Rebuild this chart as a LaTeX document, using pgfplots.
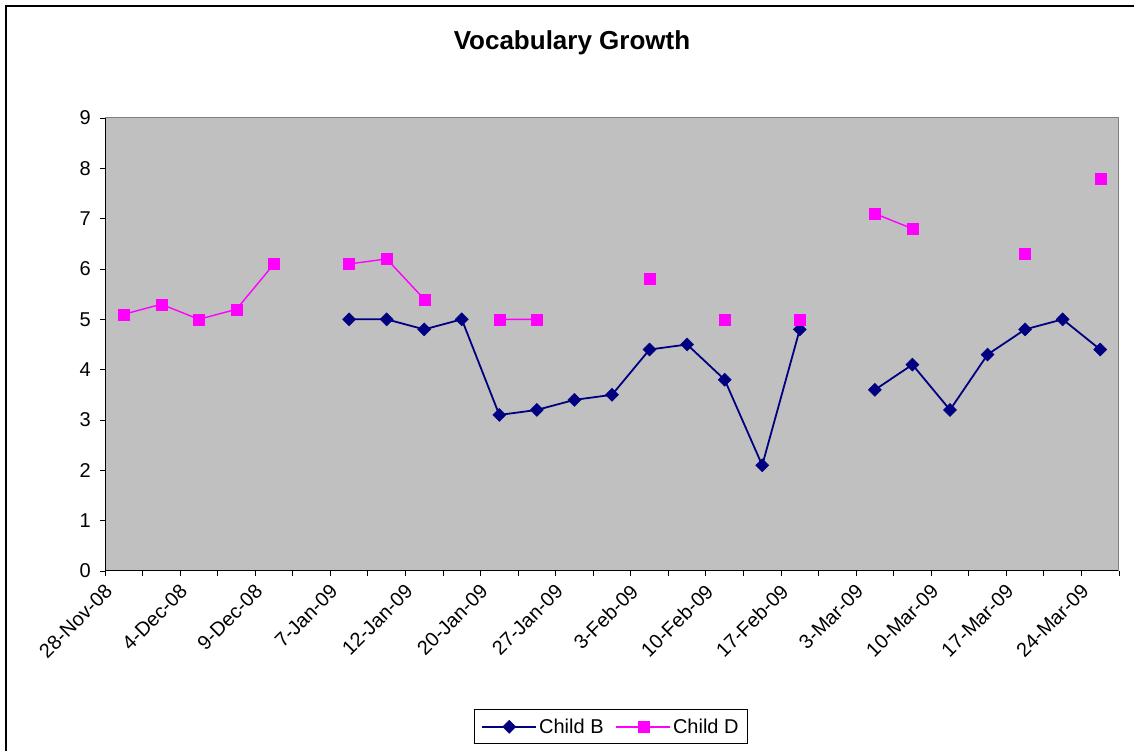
\documentclass[border=0pt]{standalone}
\usepackage{pgfplots}
\pgfplotsset{compat=1.18}
\usepackage{pgfplotstable}
\usepackage{fontspec}
\setmainfont{Liberation Sans}
\definecolor{plotgray}{HTML}{C0C0C0}
\definecolor{bordergray}{HTML}{808080}
\definecolor{navyB}{HTML}{000080}
\definecolor{magD}{HTML}{FF00FF}
\pgfplotstableread{
x B D
0 nan 5.1
1 nan 5.3
2 nan 5.0
3 nan 5.2
4 nan 6.1
5 nan nan
6 5.0 6.1
7 5.0 6.2
8 4.8 5.4
9 5.0 nan
10 3.1 5.0
11 3.2 5.0
12 3.4 nan
13 3.5 nan
14 4.4 5.8
15 4.5 nan
16 3.8 5.0
17 2.1 nan
18 4.8 5.0
19 nan nan
20 3.6 7.1
21 4.1 6.8
22 3.2 nan
23 4.3 nan
24 4.8 6.3
25 5.0 nan
26 4.4 7.8
}\datatable
\begin{document}
\begin{tikzpicture}[x=1pt,y=1pt]
\path[use as bounding box] (0,0) rectangle (1134,751);
\draw[line width=2pt] (6,-5) -- (6,745) -- (1140,745);
\node[font=\bfseries\fontsize{26}{30}\selectfont] at (572,708) {Vocabulary Growth};
\begin{axis}[
  at={(105pt,180pt)}, anchor=south west,
  scale only axis, width=1014pt, height=453pt,
  xmin=-0.5, xmax=26.5, ymin=0, ymax=9,
  ytick={0,1,...,9},
  xtick={0,2,...,26},
  xticklabels={28-Nov-08,4-Dec-08,9-Dec-08,7-Jan-09,12-Jan-09,20-Jan-09,27-Jan-09,3-Feb-09,10-Feb-09,17-Feb-09,3-Mar-09,10-Mar-09,17-Mar-09,24-Mar-09},
  minor xtick={-0.5,0.5,...,26.5},
  major x tick style={draw=none},
  tick align=outside,
  major tick length=5pt, minor tick length=5pt,
  every tick/.style={black, line width=0.9pt},
  axis background/.style={fill=plotgray},
  axis x line*=bottom, axis y line*=left,
  axis line style={black, line width=1pt},
  unbounded coords=jump,
  /pgf/number format/assume math mode=true,
  tick label style={font=\fontsize{20}{23}\selectfont},
  yticklabel style={inner sep=0pt, xshift=-9pt},
  xticklabel style={inner sep=0pt, xshift=-15pt, yshift=-12pt, rotate=45, anchor=east},
  legend columns=2,
  legend style={at={(0.499,-0.344)}, anchor=center, draw=black, line width=0.8pt,
    font=\fontsize{20}{23}\selectfont, inner xsep=7pt, inner ysep=7pt,
    /tikz/every even column/.append style={column sep=10pt}},
  legend image code/.code={\draw[mark repeat=2,mark phase=2,#1] plot coordinates {(0pt,0pt) (27pt,0pt) (54pt,0pt)};},
]
\draw[bordergray, line width=1pt] (rel axis cs:0,1) -- (rel axis cs:1,1) -- (rel axis cs:1,0);
\addplot[navyB, line width=1.8pt, mark=square*, mark size=4.6pt, mark options={rotate=45, fill=navyB, line width=0.5pt}] table[x=x, y=B] {\datatable};
\addlegendentry{Child B}
\addplot[magD, line width=1.4pt, mark=square*, mark size=5.5pt, mark options={fill=magD, line width=0.3pt}] table[x=x, y=D] {\datatable};
\addlegendentry{Child D}
\end{axis}
\end{tikzpicture}
\end{document}
